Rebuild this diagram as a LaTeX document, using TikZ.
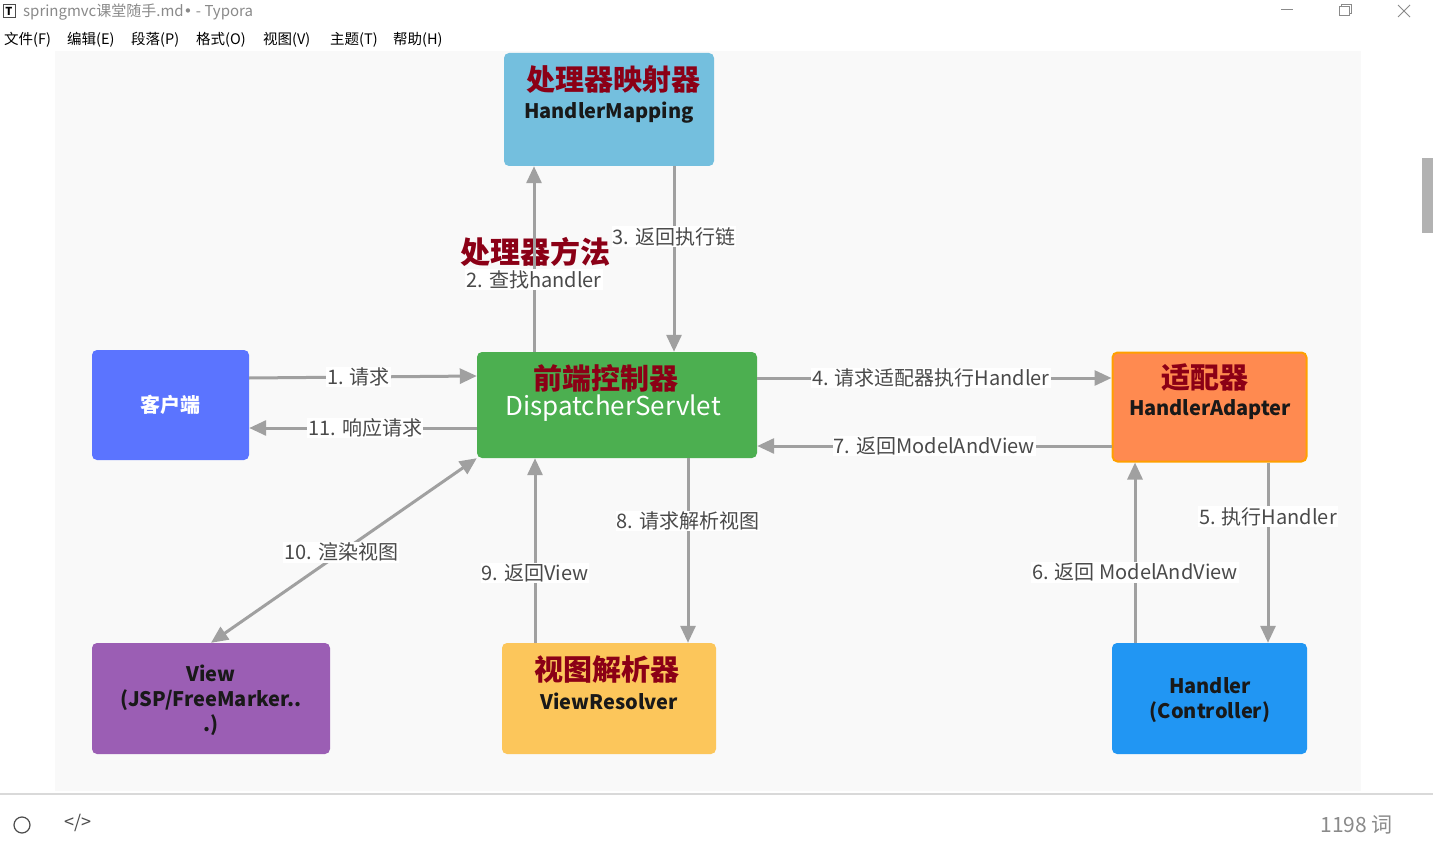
\documentclass[tikz,border=0pt]{standalone}
\usepackage{fontspec}
\setmainfont{Noto Sans CJK SC}
\newfontfamily\dejavu{DejaVu Sans}
\usetikzlibrary{arrows.meta}
\definecolor{bggray}{HTML}{F9F9F9}
\definecolor{arrowgray}{HTML}{A0A0A0}
\definecolor{lblgray}{HTML}{4A4A4A}
\definecolor{darkred}{HTML}{8B0016}
\definecolor{clientblue}{HTML}{5B74FF}
\definecolor{dsgreen}{HTML}{4CAF50}
\definecolor{hmblue}{HTML}{74BFDE}
\definecolor{haorange}{HTML}{FF8A50}
\definecolor{haborder}{HTML}{FFA000}
\definecolor{viewpurple}{HTML}{9B5EB4}
\definecolor{vryellow}{HTML}{FCC65B}
\definecolor{handlerblue}{HTML}{2196F3}
\definecolor{chromegray}{HTML}{8A8A8A}
\begin{document}
\begin{tikzpicture}[x=1pt,y=-1pt,
  box/.style={rounded corners=5pt, inner sep=0pt},
  ttl/.style={text=darkred, font=\fontsize{29}{31}\selectfont\bfseries, inner sep=0pt},
  sub/.style={text=black!90, font=\fontsize{20}{22}\selectfont\bfseries, inner sep=0pt},
  arr/.style={draw=arrowgray, line width=3pt, -{Triangle[length=17pt,width=15pt]}},
  darr/.style={draw=arrowgray, line width=3pt, {Triangle[length=17pt,width=15pt]}-{Triangle[length=17pt,width=15pt]}},
  lbl/.style={fill=white, text=lblgray, font=\fontsize{20}{22}\selectfont, inner sep=1pt},
  menu/.style={anchor=west, text=black, font=\fontsize{14.5}{16}\selectfont, inner sep=0pt},
]
\useasboundingbox (0,0) rectangle (1433,845);
\fill[white] (0,0) rectangle (1433,845);
% window chrome
\node[draw=black!70, line width=0.6pt, minimum width=12pt, minimum height=13pt, inner sep=0pt, font=\fontsize{11}{11}\selectfont\bfseries] (icon) at (9,11) {T};
\node[anchor=west, text=chromegray, font=\fontsize{15}{17}\selectfont, inner sep=0pt] (title) at (23,12) {springmvc课堂随手.md{\dejavu •} - Typora};
\draw[chromegray, line width=1pt] (1281,10) -- (1293,10);
\draw[chromegray, line width=1pt] (1339,7) rectangle (1349,16);
\draw[chromegray, line width=1pt] (1341,7) -- (1341,5) -- (1351,5) -- (1351,14) -- (1349,14);
\draw[chromegray, line width=1pt] (1398,5) -- (1410,17) (1410,5) -- (1398,17);
\node[menu] (m1) at (4,40) {文件(F)};
\node[menu] (m2) at (67,40) {编辑(E)};
\node[menu] (m3) at (131,40) {段落(P)};
\node[menu] (m4) at (196,40) {格式(O)};
\node[menu] (m5) at (263,40) {视图(V)};
\node[menu] (m6) at (330,40) {主题(T)};
\node[menu] (m7) at (393,40) {帮助(H)};
\fill[bggray] (55,51) rectangle (1361,791);
\fill[black!30] (1422,158) rectangle (1433,233);
\draw[black!15, line width=1.5pt] (0,794) -- (1433,794);
\draw[black!70, line width=1.2pt] (22,825) circle (8pt);
\node[text=black!70, font=\fontsize{18}{20}\selectfont, inner sep=0pt] (code) at (78,823) {</>};
\node[anchor=east, text=chromegray, font=\fontsize{21}{23}\selectfont, inner sep=0pt] (words) at (1393,825) {1198 词};

% boxes
\node[box, fill=hmblue, minimum width=210pt, minimum height=113pt] (hm) at (609,109.5) {};
\node[box, fill=clientblue, minimum width=157pt, minimum height=110pt, text=white, font=\fontsize{20}{22}\selectfont\bfseries] (client) at (170.5,405) {客户端};
\node[box, fill=dsgreen, minimum width=280pt, minimum height=106pt] (ds) at (617,405) {};
\node[box, fill=haorange, draw=haborder, line width=2pt, minimum width=194pt, minimum height=109pt] (ha) at (1209.5,407) {};
\node[box, fill=viewpurple, minimum width=238pt, minimum height=111pt] (view) at (211,698.5) {};
\node[box, fill=vryellow, minimum width=214pt, minimum height=111pt] (vr) at (609,698.5) {};
\node[box, fill=handlerblue, minimum width=195pt, minimum height=111pt] (handler) at (1209.5,698.5) {};

% box texts
\node[ttl] (hmt) at (613,80) {处理器映射器};
\node[sub] (hms) at (609,113) {HandlerMapping};
\node[ttl] (dst) at (606,378) {前端控制器};
\node[sub, text=white, font=\fontsize{26}{28}\selectfont] (dss) at (613,408) {DispatcherServlet};
\node[ttl] (hat) at (1205,377) {适配器};
\node[sub] (has) at (1210,410) {HandlerAdapter};
\node[ttl] (vrt) at (607,670) {视图解析器};
\node[sub] (vrs) at (609,701) {ViewResolver};
\node[sub, align=center, font=\fontsize{20}{25}\selectfont\bfseries] (views) at (211,700) {View\\(JSP/FreeMarker..\\.)};
\node[sub, align=center, font=\fontsize{20}{25}\selectfont\bfseries] (hs) at (1210,700) {Handler\\(Controller)};
\node[ttl, font=\fontsize{30}{32}\selectfont\bfseries] (note) at (535,252) {处理器方法};

% connectors
\draw[arr] (client.east |- 0,378) -- node[lbl, pos=0.48] (l1) {1. 请求} (ds.west |- 0,376);
\draw[arr] (ds.west |- 0,428) -- node[lbl, pos=0.49] (l11) {11. 响应请求} (client.east |- 0,428);
\draw[arr] (ds.north -| 534,0) -- node[lbl, pos=0.39] (l2) {2. 查找handler} (hm.south -| 534,0);
\draw[arr] (hm.south -| 674,0) -- node[lbl, pos=0.38] (l3) {3. 返回执行链} (ds.north -| 674,0);
\draw[arr] (ds.east |- 0,378) -- node[lbl, pos=0.49] (l4) {4. 请求适配器执行Handler} (ha.west |- 0,378);
\draw[arr] (ha.west |- 0,446) -- node[lbl, pos=0.5] (l7) {7. 返回ModelAndView} (ds.east |- 0,446);
\draw[arr] (ha.south -| 1268,0) -- node[lbl, pos=0.3] (l5) {5. 执行Handler} (handler.north -| 1268,0);
\draw[arr] (handler.north -| 1135,0) -- node[lbl, pos=0.39] (l6) {6. 返回 ModelAndView} (ha.south -| 1135,0);
\draw[arr] (ds.south -| 688,0) -- node[lbl, pos=0.34] (l8) {8. 请求解析视图} (vr.north -| 688,0);
\draw[arr] (vr.north -| 535,0) -- node[lbl, pos=0.38] (l9) {9. 返回View} (ds.south -| 535,0);
\draw[darr] (ds.south west) -- node[lbl, pos=0.51] (l10) {10. 渲染视图} (view.north);
\end{tikzpicture}
\end{document}
